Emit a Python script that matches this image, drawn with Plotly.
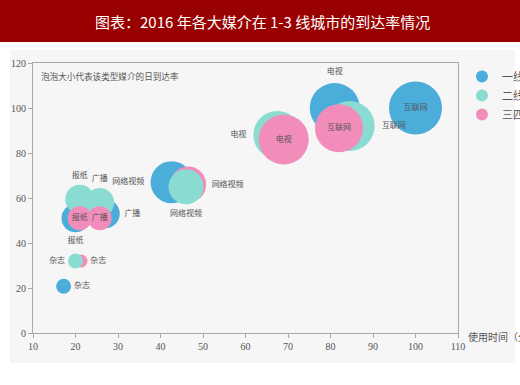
import plotly.graph_objects as go

# ---- data ----
media = ["电视", "互联网", "网络视频", "广播", "报纸", "杂志"]
series_names = ["一线城市", "二线城市", "三四线城市"]

# usage time (minutes)
time_t1 = [81, 100, 42.6, 27, 20, 17.2]
time_t2 = [67.5, 84.5, 46, 25.7, 21, 20]
time_t3 = [69, 82, 46.5, 25.7, 21, 21.3]

# daily reach (%)
reach_t1 = [100, 100, 67, 53, 51, 20.8]
reach_t2 = [88, 92, 65, 58, 59.5, 32]
reach_t3 = [86, 91, 66, 51, 51, 32]

# bubble size (relative daily reach)
size_t1 = [50, 53, 42, 29, 28, 15]
size_t2 = [48, 50, 35, 29, 29, 15]
size_t3 = [50, 48, 36, 24, 24, 13]

label_pos_t1 = ["top center", "middle center", "middle left", "middle right", "bottom center", "middle right"]
label_pos_t2 = ["middle left", "middle right", "bottom center", "top center", "top center", "middle left"]
label_pos_t3 = ["middle center", "middle center", "middle right", "middle center", "middle center", "middle right"]

# tier-3 bubbles drawn behind the tier-2 ones
t3_behind = ["网络视频", "杂志"]

x_ticks = list(range(10, 111, 10))
y_ticks = list(range(0, 121, 20))

colors = ["#4BADDA", "#8ADCD2", "#F28DBB"]
label_font = dict(family="Noto Sans CJK SC", size=8, color="#555555")

fig = go.Figure()


def add_series(name, xs, ys, sizes, pos, color, idx, showlegend=True):
    fig.add_trace(go.Scatter(
        x=[xs[i] for i in idx],
        y=[ys[i] for i in idx],
        text=[media[i] for i in idx],
        textposition=[pos[i] for i in idx],
        mode="markers+text",
        name=name,
        legendgroup=name,
        showlegend=showlegend,
        marker=dict(size=[sizes[i] for i in idx], sizemode="diameter",
                    color=color, opacity=1, line=dict(width=0)),
        textfont=label_font,
        cliponaxis=False,
        hoverinfo="skip",
    ))


all_idx = list(range(len(media)))
back_idx = [i for i, m in enumerate(media) if m in t3_behind]
front_idx = [i for i, m in enumerate(media) if m not in t3_behind]

add_series(series_names[0], time_t1, reach_t1, size_t1, label_pos_t1, colors[0], all_idx)
add_series(series_names[2], time_t3, reach_t3, size_t3, label_pos_t3, colors[2], back_idx, showlegend=False)
add_series(series_names[1], time_t2, reach_t2, size_t2, label_pos_t2, colors[1], all_idx)
add_series(series_names[2], time_t3, reach_t3, size_t3, label_pos_t3, colors[2], front_idx)

W, H = 520, 385
L, R, T, B = 33, 62, 63, 52
pw, ph = W - L - R, H - T - B


def px_x(px):
    return (px - L) / pw


def px_y(py):
    return (H - B - py) / ph


shapes = [
    # light grey panel
    dict(type="rect", xref="paper", yref="paper", x0=px_x(10), x1=px_x(515),
         y0=px_y(363), y1=px_y(50), fillcolor="#F6F6F6", line=dict(width=0), layer="below"),
    # dark red title bar
    dict(type="rect", xref="paper", yref="paper", x0=px_x(-5), x1=px_x(525),
         y0=px_y(42), y1=px_y(-5), fillcolor="#990000", line=dict(width=0), layer="below"),
]

annotations = [
    dict(text="图表：2016 年各大媒介在 1-3 线城市的到达率情况", xref="paper", yref="paper",
         x=px_x(262), y=px_y(21), xanchor="center", yanchor="middle", showarrow=False,
         font=dict(family="Noto Sans CJK SC", size=15, color="white")),
    dict(text="泡泡大小代表该类型媒介的日到达率", xref="paper", yref="paper",
         x=px_x(39), y=px_y(76), xanchor="left", yanchor="middle", showarrow=False,
         font=dict(family="Noto Sans CJK SC", size=8.6, color="#555555")),
    dict(text="使用时间（分钟）", xref="paper", yref="paper",
         x=px_x(466), y=px_y(336), xanchor="left", yanchor="middle", showarrow=False,
         font=dict(family="Noto Sans CJK SC", size=10, color="#555555")),
]

fig.update_layout(
    width=W, height=H,
    margin=dict(l=L, r=R, t=T, b=B, autoexpand=False),
    paper_bgcolor="white",
    plot_bgcolor="rgba(0,0,0,0)",
    shapes=shapes,
    annotations=annotations,
    showlegend=True,
    legend=dict(x=px_x(462), y=px_y(62), xanchor="left", yanchor="top",
                itemsizing="constant", bgcolor="rgba(0,0,0,0)",
                font=dict(family="Noto Sans CJK SC", size=11, color="#555555"),
                traceorder="normal", tracegroupgap=2),
    xaxis=dict(range=[10, 110], tickvals=x_ticks, showgrid=False, zeroline=False,
               showline=True, linecolor="#A8A8A8", mirror=True, ticks="outside",
               ticklen=4, tickcolor="#A8A8A8",
               tickfont=dict(family="Liberation Serif", size=10, color="#555555")),
    yaxis=dict(range=[0, 120], tickvals=y_ticks, showgrid=False, zeroline=False,
               showline=True, linecolor="#A8A8A8", mirror=True, ticks="outside",
               ticklen=4, tickcolor="#A8A8A8",
               tickfont=dict(family="Liberation Serif", size=10, color="#555555")),
)

fig.write_html("out.html", config={"displayModeBar": False},
               post_script="document.body.style.margin='0';")
